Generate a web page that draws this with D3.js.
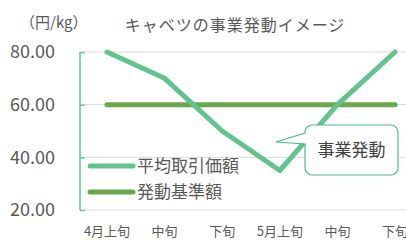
<!DOCTYPE html>
<html>
<head>
<meta charset="utf-8">
<script src="https://cdn.jsdelivr.net/npm/d3@7"></script>
<style>
  body { margin: 0; background: #fff; }
  svg { display: block; font-family: "Noto Sans CJK JP", "Noto Sans", sans-serif; }
</style>
</head>
<body>
<div id="chart"></div>
<script>
// data
const periods = ['4月上旬', '中旬', '下旬', '5月上旬', '中旬', '下旬'];
const avgPrice = [80, 70, 50, 35, 60, 80];     // 平均取引価額
const triggerPrice = [60, 60, 60, 60, 60, 60]; // 発動基準額
const yTicks = [20, 40, 60, 80];
const seriesNames = ['平均取引価額', '発動基準額'];

const width = 406, height = 240;
const lightGreen = '#63c38f', darkGreen = '#6aa84a', grey = '#595959';

const svg = d3.select('#chart').append('svg')
    .attr('width', width)
    .attr('height', height);

const x = d3.scalePoint()
    .domain(d3.range(periods.length))
    .range([107, 395]);

const y = d3.scaleLinear()
    .domain([20, 80])
    .range([210, 52]);

// gridlines
svg.append('g').selectAll('line')
    .data(yTicks)
    .join('line')
    .attr('x1', 85).attr('x2', width)
    .attr('y1', d => y(d)).attr('y2', d => y(d))
    .attr('stroke', '#d9d9d9')
    .attr('stroke-width', 1);

// y axis (green line with short ticks)
const yAxis = svg.append('g')
    .attr('transform', 'translate(80,0)')
    .call(d3.axisRight(y).tickValues(yTicks).tickSize(5).tickFormat(''));
yAxis.select('.domain').attr('stroke', lightGreen).attr('stroke-width', 1.5).attr('d', `M0,${y(80)}V${y(20)}`);
yAxis.selectAll('.tick line').attr('stroke', lightGreen).attr('stroke-width', 1.5);

svg.append('g').selectAll('text')
    .data(yTicks)
    .join('text')
    .attr('x', 55).attr('y', d => y(d))
    .attr('dy', '0.36em')
    .attr('text-anchor', 'end')
    .attr('fill', grey)
    .style('font-size', '18px')
    .text(d => d3.format('.2f')(d));

// x labels
svg.append('g').selectAll('text')
    .data(periods)
    .join('text')
    .attr('x', (_, i) => x(i)).attr('y', 231)
    .attr('dy', '0.36em')
    .attr('text-anchor', 'middle')
    .attr('fill', grey)
    .style('font-size', '13px')
    .text(d => d);

// title + unit
svg.append('text')
    .attr('x', 235).attr('y', 25)
    .attr('dy', '0.36em')
    .attr('text-anchor', 'middle')
    .attr('fill', grey)
    .style('font-size', '16px')
    .style('letter-spacing', '1px')
    .text('キャベツの事業発動イメージ');

svg.append('text')
    .attr('x', 20).attr('y', 23)
    .attr('dy', '0.36em')
    .attr('fill', grey)
    .style('font-size', '15px')
    .text('（円/kg）');

// lines
const line = d3.line()
    .x((_, i) => x(i))
    .y(d => y(d));

svg.append('path')
    .datum(triggerPrice)
    .attr('d', line)
    .attr('fill', 'none')
    .attr('stroke', darkGreen)
    .attr('stroke-width', 5)
    .attr('stroke-linecap', 'round');

svg.append('path')
    .datum(avgPrice)
    .attr('d', line)
    .attr('fill', 'none')
    .attr('stroke', lightGreen)
    .attr('stroke-width', 5)
    .attr('stroke-linejoin', 'round')
    .attr('stroke-linecap', 'round');

// legend
const legend = svg.append('g').selectAll('g')
    .data(seriesNames)
    .join('g')
    .attr('transform', (_, i) => `translate(90,${166 + i * 26})`);
legend.append('line')
    .attr('x1', 0).attr('x2', 43)
    .attr('stroke', (_, i) => i ? darkGreen : lightGreen)
    .attr('stroke-width', 5)
    .attr('stroke-linecap', 'round');
legend.append('text')
    .attr('x', 47)
    .attr('dy', '0.36em')
    .attr('fill', grey)
    .style('font-size', '17px')
    .text(d => d);

// callout "事業発動"
const bx = 305, by = 125, bw = 93, bh = 50, r = 7;
const tipX = 276, tipY = 142;
const callout = d3.path();
callout.moveTo(bx + r, by);
callout.lineTo(bx + bw - r, by);
callout.arcTo(bx + bw, by, bx + bw, by + r, r);
callout.lineTo(bx + bw, by + bh - r);
callout.arcTo(bx + bw, by + bh, bx + bw - r, by + bh, r);
callout.lineTo(bx + r, by + bh);
callout.arcTo(bx, by + bh, bx, by + bh - r, r);
callout.lineTo(bx, 144);
callout.lineTo(tipX, tipY);
callout.lineTo(bx, 133);
callout.lineTo(bx, by + r);
callout.arcTo(bx, by, bx + r, by, r);
callout.closePath();

svg.append('path')
    .attr('d', callout.toString())
    .attr('fill', '#fff')
    .attr('stroke', '#4dbb83')
    .attr('stroke-width', 1.2);

svg.append('text')
    .attr('x', bx + bw / 2).attr('y', by + bh / 2)
    .attr('dy', '0.36em')
    .attr('text-anchor', 'middle')
    .attr('fill', '#404040')
    .style('font-size', '17px')
    .text('事業発動');
</script>
</body>
</html>
